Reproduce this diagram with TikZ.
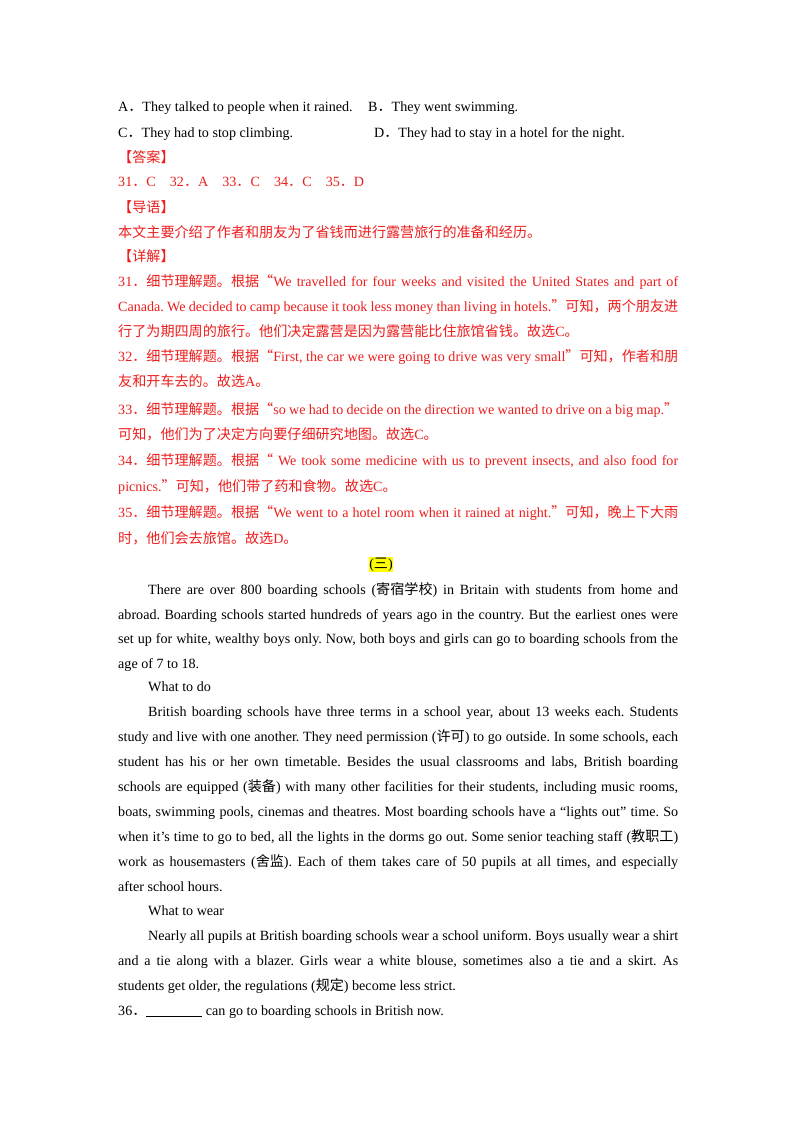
\documentclass[tikz,border=0pt]{standalone}
\usepackage{fontspec}
\setmainfont{Liberation Serif}
\newfontfamily\cjk{Noto Sans CJK SC}
\definecolor{ansred}{RGB}{238,30,30}
\definecolor{hl}{RGB}{255,255,0}
\newcommand\C[1]{{\cjk #1}}
\frenchspacing
\tikzset{ln/.style={anchor=base west,inner sep=0pt,font=\fontsize{14.1}{16}\selectfont},
 rd/.style={ln,text=ansred}}
\newcommand\J[3]{\makebox[#1][s]{#3}}
\begin{document}
\begin{tikzpicture}[x=1pt,y=1pt]
\useasboundingbox[fill=white] (0,0) rectangle (800,-1132);
\node[ln] (l1) at (118,-111) {A\C{．}They talked to people when it rained.};
\node[ln] (l1b) at (368,-111) {B\C{．}They went swimming.};
\node[ln] (l2) at (118,-137) {C\C{．}They had to stop climbing.};
\node[ln] (l2b) at (374,-137) {D\C{．}They had to stay in a hotel for the night.};
\node[rd] (l3) at (118,-162) {\C{【答案】}};
\node[rd] (l4) at (118,-186) {31\C{．}C\quad 32\C{．}A\quad 33\C{．}C\quad 34\C{．}C\quad 35\C{．}D};
\node[rd] (l5) at (118,-212) {\C{【导语】}};
\node[rd] (l6) at (118,-237) {\C{本文主要介绍了作者和朋友为了省钱而进行露营旅行的准备和经历。}};
\node[rd] (l7) at (118,-261) {\C{【详解】}};
\node[rd] (l8) at (118,-286) {\J{560pt}{}{31\C{．细节理解题。根据“}We travelled for four weeks and visited the United States and part of}};
\node[rd] (l9) at (118,-311) {\J{560pt}{}{Canada. We decided to camp because it took less money than living in hotels.\C{”可知，两个朋友进}}};
\node[rd] (l10) at (118,-336) {\C{行了为期四周的旅行。他们决定露营是因为露营能比住旅馆省钱。故选}C\C{。}};
\node[rd] (l11) at (118,-361) {\J{560pt}{}{32\C{．细节理解题。根据“}First, the car we were going to drive was very small\C{”可知，作者和朋}}};
\node[rd] (l12) at (118,-386) {\C{友和开车去的。故选}A\C{。}};
\node[rd] (l13) at (118,-414) {\J{560pt}{}{33\C{．细节理解题。根据“}so we had to decide on the direction we wanted to drive on a big map.\C{”}}};
\node[rd] (l14) at (118,-439) {\C{可知，他们为了决定方向要仔细研究地图。故选}C\C{。}};
\node[rd] (l15) at (118,-465) {\J{560pt}{}{34\C{．细节理解题。根据“} We took some medicine with us to prevent insects, and also food for}};
\node[rd] (l16) at (118,-491) {picnics.\C{”可知，他们带了药和食物。故选}C\C{。}};
\node[rd] (l17) at (118,-517) {\J{560pt}{}{35\C{．细节理解题。根据“}We went to a hotel room when it rained at night.\C{”可知，晚上下大雨}}};
\node[rd] (l18) at (118,-543) {\C{时，他们会去旅馆。故选}D\C{。}};
\node[anchor=base,inner sep=0.5pt,fill=hl,font=\fontsize{14.1}{16}\selectfont] (t) at (381,-568) {(\C{三})};
\node[ln] (p1) at (148,-594) {\J{530pt}{}{There are over 800 boarding schools (\C{寄宿学校}) in Britain with students from home and}};
\node[ln] (p2) at (118,-619) {\J{560pt}{}{abroad. Boarding schools started hundreds of years ago in the country. But the earliest ones were}};
\node[ln] (p3) at (118,-643) {\J{560pt}{}{set up for white, wealthy boys only. Now, both boys and girls can go to boarding schools from the}};
\node[ln] (p4) at (118,-668) {age of 7 to 18.};
\node[ln] (h1) at (148,-691) {What to do};
\node[ln] (q1) at (148,-716) {\J{530pt}{}{British boarding schools have three terms in a school year, about 13 weeks each. Students}};
\node[ln] (q2) at (118,-741) {\J{560pt}{}{study and live with one another. They need permission (\C{许可}) to go outside. In some schools, each}};
\node[ln] (q3) at (118,-766) {\J{560pt}{}{student has his or her own timetable. Besides the usual classrooms and labs, British boarding}};
\node[ln] (q4) at (118,-791) {\J{560pt}{}{schools are equipped (\C{装备}) with many other facilities for their students, including music rooms,}};
\node[ln] (q5) at (118,-816) {\J{560pt}{}{boats, swimming pools, cinemas and theatres. Most boarding schools have a “lights out” time. So}};
\node[ln] (q6) at (118,-841) {\J{560pt}{}{when it’s time to go to bed, all the lights in the dorms go out. Some senior teaching staff (\C{教职工})}};
\node[ln] (q7) at (118,-866) {\J{560pt}{}{work as housemasters (\C{舍监}). Each of them takes care of 50 pupils at all times, and especially}};
\node[ln] (q8) at (118,-891) {after school hours.};
\node[ln] (h2) at (148,-915) {What to wear};
\node[ln] (r1) at (148,-940) {\J{530pt}{}{Nearly all pupils at British boarding schools wear a school uniform. Boys usually wear a shirt}};
\node[ln] (r2) at (118,-965) {\J{560pt}{}{and a tie along with a blazer. Girls wear a white blouse, sometimes also a tie and a skirt. As}};
\node[ln] (r3) at (118,-990) {students get older, the regulations (\C{规定}) become less strict.};
\node[ln] (s1) at (118,-1015) {36\C{．}\underline{\hspace{56pt}} can go to boarding schools in British now.};
\end{tikzpicture}
\end{document}
